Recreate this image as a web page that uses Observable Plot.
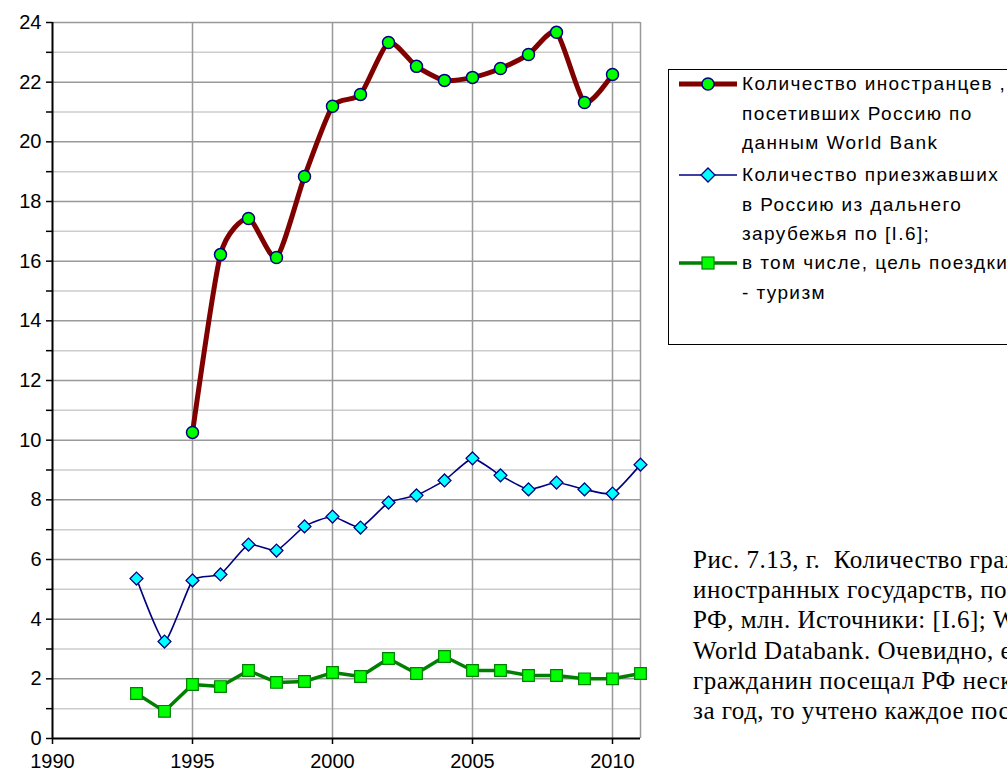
<!DOCTYPE html>
<html>
<head>
<meta charset="utf-8">
<script src="https://cdn.jsdelivr.net/npm/d3@7"></script>
<script src="https://cdn.jsdelivr.net/npm/@observablehq/plot@0.6"></script>
<style>
  html, body { margin: 0; padding: 0; background: #fff; width: 1007px; height: 771px; overflow: hidden; }
  #wrap { position: relative; width: 1007px; height: 771px; overflow: hidden; }
  #chart { position: absolute; left: 0; top: 0; }
  #legend { position: absolute; left: 668px; top: 69px; width: 400px; height: 276px; border: 1.5px solid #000; box-sizing: border-box; font-family: "Liberation Sans", Arial, sans-serif; font-size: 19px; letter-spacing: 1.4px; color: #000; }
  .lg { position: absolute; left: 73px; white-space: pre; line-height: 20px; }
  .sym { position: absolute; left: 8px; width: 62px; height: 20px; }
  #caption { position: absolute; left: 693px; top: 545px; font-family: "Liberation Serif", "Times New Roman", serif; font-size: 25px; letter-spacing: 0.5px; line-height: 30.2px; white-space: pre; color: #000; }
</style>
</head>
<body>
<div id="wrap">
  <div id="chart"></div>
  <div id="legend"></div>
  <div id="caption"></div>
</div>
<script>
// Data
const yearsWB = [1995, 1996, 1997, 1998, 1999, 2000, 2001, 2002, 2003, 2004, 2005, 2006, 2007, 2008, 2009, 2010];
const valuesWB = [10.26, 16.22, 17.43, 16.12, 18.84, 21.19, 21.59, 23.33, 22.53, 22.06, 22.16, 22.46, 22.93, 23.67, 21.32, 22.26];

const yearsArr = [1993, 1994, 1995, 1996, 1997, 1998, 1999, 2000, 2001, 2002, 2003, 2004, 2005, 2006, 2007, 2008, 2009, 2010, 2011];
const valuesArrivals = [5.36, 3.25, 5.30, 5.50, 6.50, 6.30, 7.11, 7.44, 7.07, 7.91, 8.15, 8.65, 9.39, 8.82, 8.35, 8.58, 8.35, 8.21, 9.18];
const valuesTourism = [1.51, 0.91, 1.81, 1.74, 2.28, 1.88, 1.91, 2.21, 2.08, 2.68, 2.18, 2.75, 2.28, 2.28, 2.11, 2.11, 2.00, 2.00, 2.18];

const yTicks = [0, 2, 4, 6, 8, 10, 12, 14, 16, 18, 20, 22, 24];
const yMinor = [1, 3, 5, 7, 9, 11, 13, 15, 17, 19, 21, 23];
const xTicks = [1990, 1995, 2000, 2005, 2010];

const legendLines = [
  ["Количество иностранцев ,", "посетивших Россию по", "данным World Bank"],
  ["Количество приезжавших", "в Россию из дальнего", "зарубежья по [I.6];"],
  ["в том числе, цель поездки", "- туризм"]
];
const captionLines = [
  "Рис. 7.13, г.  Количество граждан",
  "иностранных государств, посетивших",
  "РФ, млн. Источники: [I.6]; WB",
  "World Databank. Очевидно, если",
  "гражданин посещал РФ несколько раз",
  "за год, то учтено каждое посещение."
];

const wb = yearsWB.map((x, i) => ({x, y: valuesWB[i]}));
const arr = yearsArr.map((x, i) => ({x, y: valuesArrivals[i]}));
const tour = yearsArr.map((x, i) => ({x, y: valuesTourism[i]}));

const chart = Plot.plot({
  width: 1007,
  height: 771,
  marginLeft: 52,
  marginRight: 367,
  marginTop: 22,
  marginBottom: 33,
  style: { fontFamily: "Liberation Sans, Arial, sans-serif", fontSize: "20px", color: "#000", background: "transparent" },
  x: { domain: [1990, 2011] },
  y: { domain: [0, 24] },
  marks: [
    Plot.ruleY(yMinor, { stroke: "#cccccc", strokeWidth: 1.5 }),
    Plot.ruleY(yTicks.filter(d => d > 0), { stroke: "#999999", strokeWidth: 1.5 }),
    Plot.ruleX(xTicks.filter(d => d > 1990), { stroke: "#999999", strokeWidth: 1.5 }),
    Plot.ruleX([2011], { stroke: "#999999", strokeWidth: 1.5 }),
    Plot.axisY({ ticks: yMinor, tickSize: 6, tickFormat: () => "", label: null, stroke: "#000", strokeWidth: 1.5 }),
    Plot.axisY({ ticks: yTicks, tickSize: 6, tickPadding: 5, tickFormat: "d", label: null, stroke: "#000", strokeWidth: 1.5, fill: "#000", fontSize: 20 }),
    Plot.axisX({ ticks: xTicks, tickSize: 6, tickPadding: 9, tickFormat: "d", label: null, stroke: "#000", strokeWidth: 1.5, fill: "#000", fontSize: 20 }),
    Plot.ruleX([1990], { stroke: "#000", strokeWidth: 2 }),
    Plot.ruleY([0], { stroke: "#000", strokeWidth: 2 }),
    // tourism
    Plot.line(tour, { x: "x", y: "y", stroke: "#008000", strokeWidth: 3.5, curve: "linear" }),
    Plot.dot(tour, { x: "x", y: "y", symbol: "square", r: 6.6, fill: "#00ff00", stroke: "#008000", strokeWidth: 1.2 }),
    // arrivals
    Plot.line(arr, { x: "x", y: "y", stroke: "#000080", strokeWidth: 1.6, curve: d3.curveCardinal.tension(0.5) }),
    Plot.dot(arr, { x: "x", y: "y", symbol: "diamond2", r: 5.8, fill: "#00ffff", stroke: "#000080", strokeWidth: 1.3 }),
    // World Bank
    Plot.line(wb, { x: "x", y: "y", stroke: "#800000", strokeWidth: 5, curve: d3.curveCardinal.tension(0.35) }),
    Plot.dot(wb, { x: "x", y: "y", symbol: "circle", r: 6, fill: "#00ff00", stroke: "#000080", strokeWidth: 1.5 })
  ]
});
document.getElementById("chart").appendChild(chart);

// Legend
const legend = document.getElementById("legend");
const groupTops = [4, 95, 183];
const symbols = [
  `<svg class="sym" viewBox="0 0 62 20"><line x1="2" y1="10" x2="60" y2="10" stroke="#800000" stroke-width="5"/><circle cx="31" cy="10" r="6" fill="#00ff00" stroke="#000080" stroke-width="1.5"/></svg>`,
  `<svg class="sym" viewBox="0 0 62 20"><line x1="2" y1="10" x2="60" y2="10" stroke="#000080" stroke-width="1.6"/><path d="M31 3 L38 10 L31 17 L24 10 Z" fill="#00ffff" stroke="#000080" stroke-width="1.3"/></svg>`,
  `<svg class="sym" viewBox="0 0 62 20"><line x1="2" y1="10" x2="60" y2="10" stroke="#008000" stroke-width="3.5"/><rect x="25" y="4" width="12" height="12" fill="#00ff00" stroke="#008000" stroke-width="1.2"/></svg>`
];
legendLines.forEach((lines, g) => {
  const top = groupTops[g];
  legend.insertAdjacentHTML("beforeend", symbols[g].replace('class="sym"', `class="sym" style="top:${top}px"`));
  lines.forEach((t, i) => {
    const d = document.createElement("div");
    d.className = "lg";
    d.style.top = (top + i * 29.5) + "px";
    d.textContent = t;
    legend.appendChild(d);
  });
});

// Caption
const cap = document.getElementById("caption");
captionLines.forEach(t => {
  const d = document.createElement("div");
  d.textContent = t;
  cap.appendChild(d);
});
</script>
</body>
</html>
